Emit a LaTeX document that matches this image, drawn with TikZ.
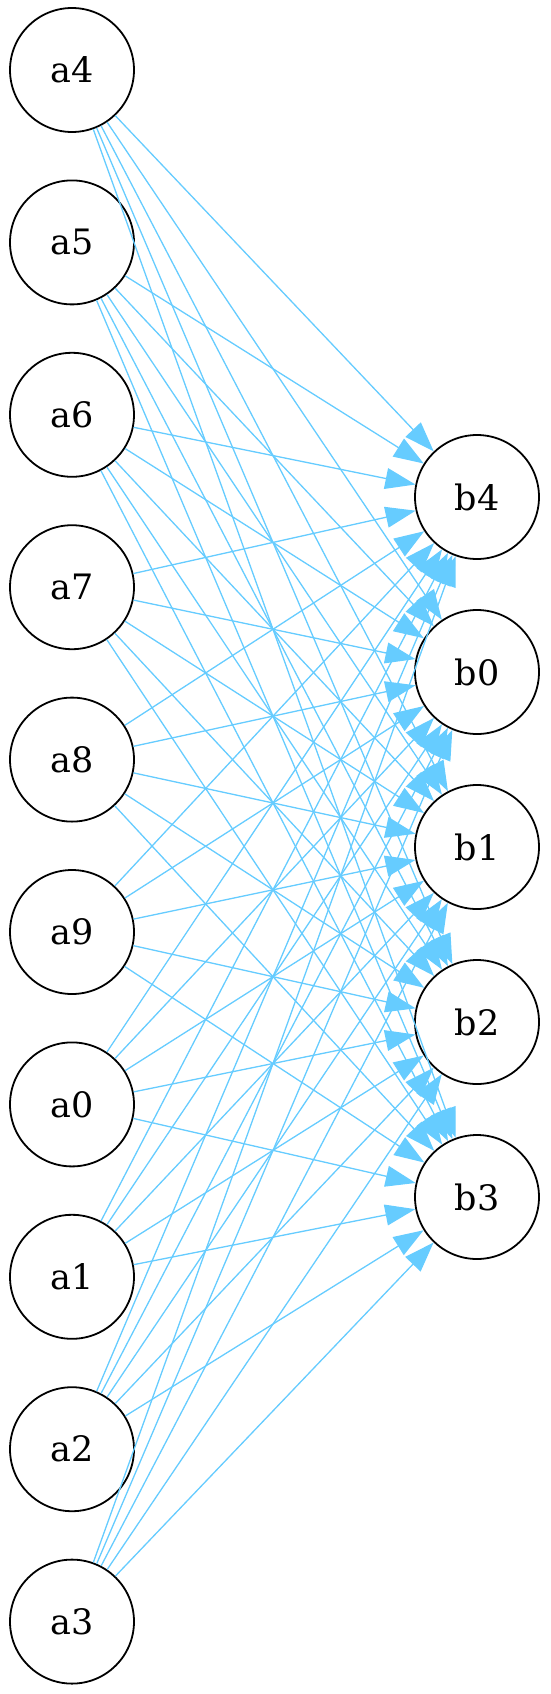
\documentclass[tikz,border=0pt]{standalone}
\usepackage{fontspec}
\setmainfont{DejaVu Serif}
\usetikzlibrary{arrows.meta}
\definecolor{edgeblue}{HTML}{66CCFF}
\tikzset{
  vtx/.style={circle, draw=black, line width=1.8pt, minimum size=124pt, inner sep=0pt,
    font=\fontsize{35}{40}\selectfont},
  link/.style={draw=edgeblue, line width=1.3pt, -{Triangle[length=30pt,width=21pt]}, fill=edgeblue}
}
\begin{document}
\begin{tikzpicture}[x=1pt,y=1pt]
\useasboundingbox (0,0) rectangle (551,-1694);
% left column
\foreach \n [count=\i from 0] in {4,5,6,7,8,9,0,1,2,3} {
  \node[vtx] (a\n) at (72,{-(70+172.4*\i)}) {a\n};
}
% right column
\foreach \n [count=\j from 0] in {4,0,1,2,3} {
  \node[vtx] (b\n) at (477,{-(497+175*\j)}) {b\n};
}
% edges: every a to every b
\foreach \s in {4,5,6,7,8,9,0,1,2,3} {
  \foreach \t in {4,0,1,2,3} {
    \draw[link] (a\s) -- (b\t);
  }
}
\end{tikzpicture}
\end{document}
